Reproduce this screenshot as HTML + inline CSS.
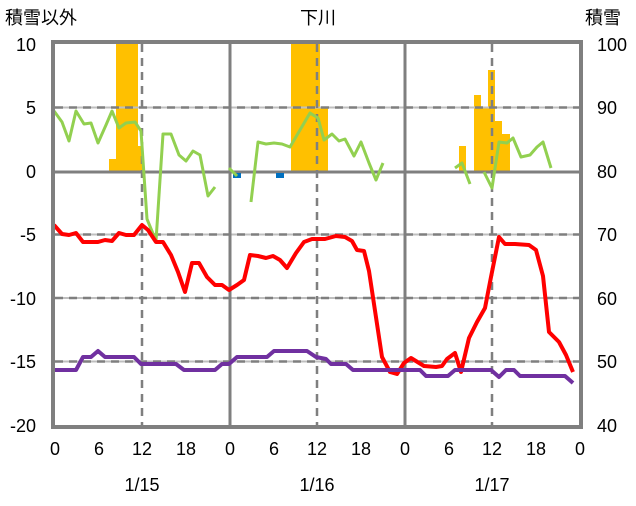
<!DOCTYPE html>
<html><head><meta charset="utf-8"><style>body{margin:0;background:#fff}</style></head><body>
<svg width="636" height="501" xmlns="http://www.w3.org/2000/svg" font-family="'Liberation Sans','Noto Sans CJK JP',sans-serif">
<rect width="636" height="501" fill="#fff"/>
<g fill="#FFC000">
<rect x="109" y="159" width="7" height="13"/>
<rect x="116" y="44" width="22" height="128"/>
<rect x="138" y="146" width="5" height="26"/>
<rect x="291" y="44" width="29" height="128"/>
<rect x="320" y="108" width="8" height="64"/>
<rect x="459" y="146" width="7" height="26"/>
<rect x="474" y="95" width="7" height="77"/>
<rect x="481" y="108" width="7" height="64"/>
<rect x="488" y="70" width="7" height="102"/>
<rect x="495" y="121" width="7" height="51"/>
<rect x="502" y="134" width="8" height="38"/>
</g>
<g stroke="#BFBFBF" stroke-width="2">
<line x1="55" y1="107.5" x2="580" y2="107.5"/><line x1="55" y1="234.5" x2="580" y2="234.5"/>
<line x1="55" y1="298" x2="580" y2="298"/><line x1="55" y1="361.5" x2="580" y2="361.5"/>
</g>
<g stroke="#7F7F7F" stroke-width="2.5" stroke-dasharray="8,6">
<line x1="55" y1="107.5" x2="580" y2="107.5"/><line x1="55" y1="234.5" x2="580" y2="234.5"/>
<line x1="55" y1="298" x2="580" y2="298"/><line x1="55" y1="361.5" x2="580" y2="361.5"/>
<line x1="142" y1="44" x2="142" y2="425"/><line x1="317" y1="44" x2="317" y2="425"/><line x1="492" y1="44" x2="492" y2="425"/>
</g>
<g stroke="#7F7F7F" stroke-width="3">
<line x1="230" y1="44" x2="230" y2="425"/><line x1="405" y1="44" x2="405" y2="425"/>
<line x1="55" y1="172" x2="580" y2="172"/>
</g>
<rect x="233" y="173" width="8" height="5" fill="#0070C0"/>
<rect x="276" y="173" width="8" height="5" fill="#0070C0"/>
<g fill="none" stroke="#92D050" stroke-width="3" stroke-linejoin="round">
<polyline points="54,111 62,122 69,141 76,111 84,124 91,123 98,143 106,125 112,111 119,128 126,123 135,122 141,131 147,219 156,241 163,134 171,134 179,155 186,161 193,151 200,155 208,196 215,187"/>
<polyline points="229,168 237,176"/>
<polyline points="251,202 258,142 266,144 274,143 282,144 290,147 300,130 310,113 318,118 324,140 332,134 339,141 345,139 354,156 361,142 369,163 376,180 383,163"/>
<polyline points="455,168 462,163 470,184"/>
<polyline points="484,172 492,188 499,142 507,143 513,138 521,157 530,155 537,147 543,142 551,168"/>
</g>
<polyline fill="none" stroke="#FF0000" stroke-width="4" stroke-linejoin="round" points="54,225 62,234 69,235 76,233 83,242 98,242 105,240 112,241 119,233 126,235 134,235 142,225 148,230 156,242 163,242 171,255 178,272 185,292 192,263 199,263 207,277 215,285 222,285 229,290 237,285 244,280 250,255 258,256 266,258 273,256 280,260 287,268 296,253 304,242 312,239 325,239 336,236 345,237 352,241 357,250 364,251 369,271 382,357 390,372 397,374 404,363 411,358 424,366 436,367 442,366 447,359 455,353 461,372 469,338 477,322 485,308 491,277 499,237 505,244 515,244 529,245 536,250 543,276 549,332 559,342 566,355 573,372"/>
<polyline fill="none" stroke="#7030A0" stroke-width="4" stroke-linejoin="round" points="54,370 76,370 83,357 91,357 98,351 105,357 134,357 141,364 176,364 184,370 215,370 222,364 229,364 237,357 267,357 274,351 307,351 316,357 326,359 331,364 346,364 353,370 420,370 426,376 448,376 455,370 491,370 499,377 506,370 514,370 520,376 565,376 573,383"/>
<rect x="53" y="42" width="528" height="385" fill="none" stroke="#7F7F7F" stroke-width="4"/>
<g font-size="18" fill="#000">
<text x="318" y="24" text-anchor="middle">下川</text>
<text x="5" y="24">積雪以外</text>
<text x="585" y="24">積雪</text>
<g text-anchor="end">
<text x="36" y="51">10</text><text x="36" y="114">5</text><text x="36" y="178">0</text>
<text x="36" y="241">-5</text><text x="36" y="305">-10</text><text x="36" y="368">-15</text><text x="36" y="432">-20</text>
</g>
<g text-anchor="start">
<text x="597" y="51">100</text><text x="597" y="114">90</text><text x="597" y="178">80</text>
<text x="597" y="241">70</text><text x="597" y="305">60</text><text x="597" y="368">50</text><text x="597" y="432">40</text>
</g>
<g text-anchor="middle">
<text x="55" y="455">0</text><text x="99" y="455">6</text><text x="142" y="455">12</text><text x="186" y="455">18</text>
<text x="230" y="455">0</text><text x="274" y="455">6</text><text x="317" y="455">12</text><text x="361" y="455">18</text>
<text x="405" y="455">0</text><text x="449" y="455">6</text><text x="492" y="455">12</text><text x="536" y="455">18</text>
<text x="580" y="455">0</text>
<text x="142" y="491">1/15</text><text x="317" y="491">1/16</text><text x="492" y="491">1/17</text>
</g>
</g>
</svg>
</body></html>
